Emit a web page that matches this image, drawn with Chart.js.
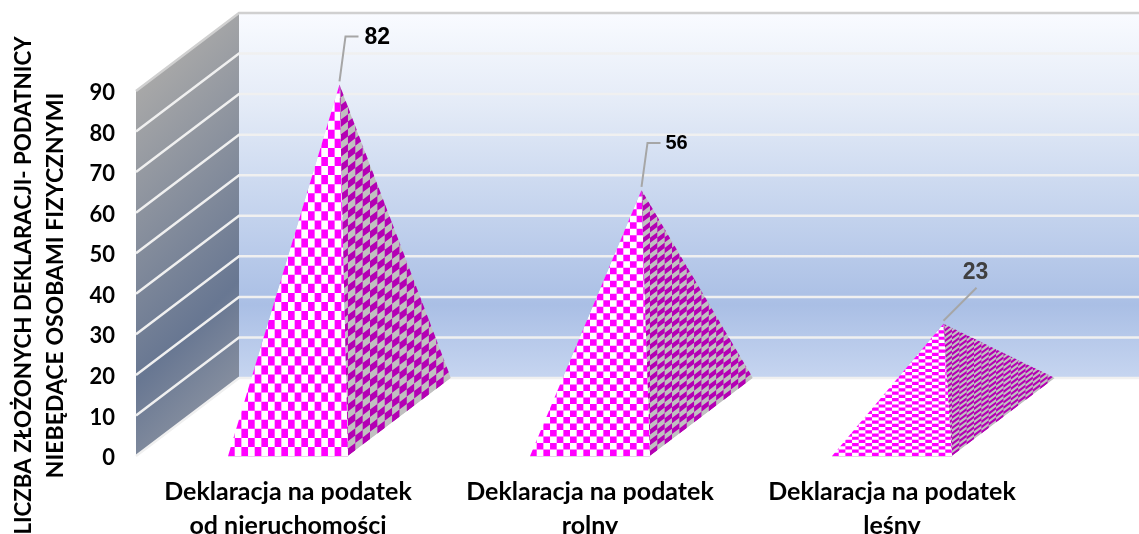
<!DOCTYPE html>
<html lang="pl">

<head>
  <meta charset="UTF-8">
  <title>Liczba złożonych deklaracji</title>
  <style>
    body {
      margin: 0;
      background-color: #ffffff;
    }

    #chart-container {
      width: 1139px;
      height: 534px;
      overflow: hidden;
    }
  </style>
</head>

<body>
  <div id="chart-container">
    <canvas id="declarationChart" width="1139" height="534"></canvas>
  </div>

  <script src="https://cdn.jsdelivr.net/npm/chart.js"></script>
  <script>
    const categories = [
      ['Deklaracja na podatek', 'od nieruchomości'],
      ['Deklaracja na podatek', 'rolny'],
      ['Deklaracja na podatek', 'leśny']
    ];
    const declarationCounts = [82, 56, 23];
    const axisTitleLines = ['LICZBA ZŁOŻONYCH DEKLARACJI- PODATNICY', 'NIEBĘDĄCE OSOBAMI FIZYCZNYMI'];

    // 3D look: how far the back wall sits from the front plane
    const depth = { x: 103, y: -78 };
    const checker = { cols: 18, rows: 41, sideCols: 14, sideRows: 50 };
    const fontFamily = 'Lato, sans-serif';
    const axisTitleSizes = [22.3, 23];

    // leader line and label of each pyramid, relative to its apex
    const callouts = [
      { elbow: [6, -48], end: [19, -48], text: [25, -47], font: 'bold 23px "Liberation Sans"', color: '#000000', align: 'left' },
      { elbow: [6, -47], end: [19, -47], text: [24, -46], font: 'bold 20px "Liberation Sans"', color: '#000000', align: 'left' },
      { elbow: null, end: [33, -36], text: [32, -51], font: 'bold 23px "Liberation Sans"', color: '#404040', align: 'center' }
    ];

    function wallsPlugin(chart) {
      const { ctx, chartArea, scales } = chart;
      const y = scales.y;
      const left = chartArea.left - 1;
      const right = chartArea.right + depth.x;
      const backLeft = left + depth.x;
      const y0 = y.getPixelForValue(0);
      const yMax = y.getPixelForValue(90);

      // back wall
      const back = ctx.createLinearGradient(0, yMax + depth.y, 0, y0 + depth.y);
      back.addColorStop(0, '#f9fbff');
      back.addColorStop(0.25, '#e4ebf7');
      back.addColorStop(0.5, '#c9d7ef');
      back.addColorStop(0.8, '#aabfe5');
      back.addColorStop(1, '#c6d5f0');
      ctx.fillStyle = back;
      ctx.fillRect(backLeft, yMax + depth.y, right - backLeft, y0 - yMax);

      // side wall
      const side = ctx.createLinearGradient(left, yMax, left + 195, yMax + 195);
      side.addColorStop(0, '#a8a8a8');
      side.addColorStop(0.75, '#687792');
      side.addColorStop(1, '#858e9f');
      ctx.beginPath();
      ctx.moveTo(left, yMax);
      ctx.lineTo(backLeft, yMax + depth.y);
      ctx.lineTo(backLeft, y0 + depth.y);
      ctx.lineTo(left, y0);
      ctx.closePath();
      ctx.fillStyle = side;
      ctx.fill();

      // grid lines over both walls
      ctx.lineWidth = 2.5;
      y.ticks.forEach((tick) => {
        const py = y.getPixelForValue(tick.value);
        ctx.strokeStyle = tick.value === 90 ? '#d0d0d0' : '#f0f0f0';
        ctx.beginPath();
        ctx.moveTo(left, py);
        ctx.lineTo(backLeft, py + depth.y);
        ctx.lineTo(right, py + depth.y);
        ctx.stroke();
      });
    }

    // paint a checkered parallelogram grid clipped to a triangular face
    function drawFace(ctx, pts, origin, u, v, nu, nv, light, dark) {
      ctx.save();
      ctx.beginPath();
      ctx.moveTo(pts[0][0], pts[0][1]);
      ctx.lineTo(pts[1][0], pts[1][1]);
      ctx.lineTo(pts[2][0], pts[2][1]);
      ctx.closePath();
      ctx.clip();
      ctx.fillStyle = light;
      ctx.fill();
      ctx.beginPath();
      // start a few columns early: the apex leans back past the front corner
      for (let i = -4; i < nu; i++) {
        for (let j = 0; j < nv; j++) {
          if ((i + j + 8) % 2) continue;
          const x = origin[0] + i * u[0] + j * v[0];
          const y = origin[1] + i * u[1] + j * v[1];
          ctx.moveTo(x, y);
          ctx.lineTo(x + u[0], y + u[1]);
          ctx.lineTo(x + u[0] + v[0], y + u[1] + v[1]);
          ctx.lineTo(x + v[0], y + v[1]);
          ctx.closePath();
        }
      }
      ctx.fillStyle = dark;
      ctx.fill();
      ctx.restore();
    }

    function pyramidsPlugin(chart) {
      const { ctx } = chart;
      const bars = chart.getDatasetMeta(0).data;
      bars.forEach((bar, index) => {
        const half = bar.width / 2;
        const x0 = bar.x - half;
        const x1 = bar.x + half;
        const base = bar.base;
        const apex = [bar.x + depth.x / 2, bar.y + depth.y / 2];
        const faceH = base - apex[1];

        drawFace(ctx,
          [[x0, base], [x1, base], apex],
          [x0, base],
          [bar.width / checker.cols, 0],
          [0, -faceH / checker.rows],
          checker.cols, checker.rows, '#ffffff', '#ff00ff');

        drawFace(ctx,
          [[x1, base], [x1 + depth.x, base + depth.y], apex],
          [x1, base],
          [depth.x / checker.sideCols, depth.y / checker.sideCols],
          [0, -faceH / checker.sideRows],
          checker.sideCols, checker.sideRows + checker.sideCols, '#c0c0c0', '#b400b4');

        // faint edge along the front of the base
        ctx.strokeStyle = '#e6cfe6';
        ctx.lineWidth = 1;
        ctx.beginPath();
        ctx.moveTo(x0, base + 0.5);
        ctx.lineTo(x1, base + 0.5);
        ctx.stroke();

        // label with leader line
        const c = callouts[index];
        ctx.strokeStyle = '#a6a6a6';
        ctx.lineWidth = 2;
        ctx.beginPath();
        ctx.moveTo(apex[0], apex[1] - 3);
        if (c.elbow) ctx.lineTo(apex[0] + c.elbow[0], apex[1] + c.elbow[1]);
        ctx.lineTo(apex[0] + c.end[0], apex[1] + c.end[1]);
        ctx.stroke();
        ctx.font = c.font;
        ctx.fillStyle = c.color;
        ctx.textAlign = c.align;
        ctx.textBaseline = 'middle';
        ctx.fillText(declarationCounts[index], apex[0] + c.text[0], apex[1] + c.text[1]);
      });
    }

    function axisTitlePlugin(chart) {
      const { ctx } = chart;
      ctx.save();
      ctx.fillStyle = '#000000';
      ctx.textAlign = 'center';
      ctx.textBaseline = 'middle';
      axisTitleLines.forEach((line, i) => {
        ctx.save();
        ctx.font = 'bold ' + axisTitleSizes[i] + 'px ' + fontFamily;
        ctx.translate(24 + i * 32, 285.5);
        ctx.rotate(-Math.PI / 2);
        ctx.fillText(line, 0, 0);
        ctx.restore();
      });
      ctx.restore();
    }

    const config = {
      type: 'bar',
      data: {
        labels: categories,
        datasets: [
          {
            data: declarationCounts,
            backgroundColor: 'rgba(0, 0, 0, 0)',
            categoryPercentage: 1,
            barPercentage: 0.397
          }
        ]
      },
      options: {
        responsive: false,
        animation: false,
        layout: {
          autoPadding: false,
          padding: { top: 91, right: 96 }
        },
        scales: {
          x: {
            grid: { display: false },
            border: { display: false },
            afterFit: (scale) => { scale.height = 78; },
            ticks: {
              color: '#000000',
              maxRotation: 0,
              padding: 11,
              font: { family: fontFamily, size: 25, weight: 'bold', lineHeight: 1.36 }
            }
          },
          y: {
            min: 0,
            max: 90,
            grid: { display: false },
            border: { display: false },
            afterFit: (scale) => { scale.width = 137; },
            ticks: {
              stepSize: 10,
              color: '#000000',
              padding: 14,
              // empty first line nudges the digits down onto the grid line height
              callback: (value) => ['', value],
              font: { family: fontFamily, size: 22, weight: 'bold', lineHeight: 0.18 }
            }
          }
        },
        plugins: {
          legend: { display: false },
          tooltip: { enabled: false }
        }
      },
      plugins: [
        { id: 'walls', beforeDatasetsDraw: wallsPlugin },
        { id: 'pyramids', afterDatasetsDraw: pyramidsPlugin },
        { id: 'axisTitle', afterDraw: axisTitlePlugin }
      ]
    };

    new Chart(document.getElementById('declarationChart').getContext('2d'), config);
  </script>
</body>

</html>
